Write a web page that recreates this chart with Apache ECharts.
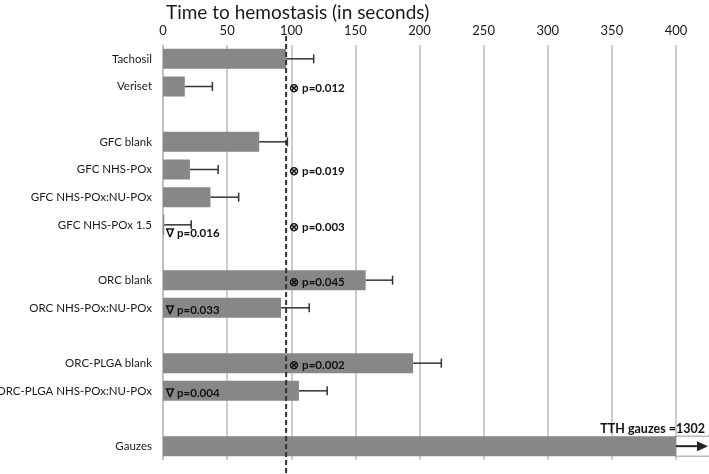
<!DOCTYPE html>
<html>
<head>
<meta charset="utf-8">
<script src="https://cdn.jsdelivr.net/npm/echarts@6/dist/echarts.min.js"></script>
<style>html,body{margin:0;padding:0;background:#fff;}#c{width:709px;height:474px;}</style>
</head>
<body>
<div id="c"></div>
<script>
// ---- data ----
var categories = ['Tachosil', 'Veriset', ' ', 'GFC blank', 'GFC NHS-POx', 'GFC NHS-POx:NU-POx', 'GFC NHS-POx 1.5', '  ', 'ORC blank', 'ORC NHS-POx:NU-POx', '   ', 'ORC-PLGA blank', 'ORC-PLGA NHS-POx:NU-POx', '    ', 'Gauzes'];
var meanValues = [96, 17, null, 75, 21, 37, 1, null, 158, 92, null, 195, 106, null, 1302];
var errorEnds  = [117.5, 38.5, null, 97, 43, 59, 22, null, 179, 114, null, 217, 128, null, null];
var xTicks = [0, 50, 100, 150, 200, 250, 300, 350, 400];
var referenceValue = 96;
// annotations: [category, x value, text, kind]
var annotations = [
  ['Veriset', 98.5, '⊗ p=0.012', 'row'],
  ['GFC NHS-POx', 98.5, '⊗ p=0.019', 'row'],
  ['GFC NHS-POx 1.5', 98.5, '⊗ p=0.003', 'row'],
  ['GFC NHS-POx 1.5', 2.5, '∇ p=0.016', 'below'],
  ['ORC blank', 98.5, '⊗ p=0.045', 'row'],
  ['ORC NHS-POx:NU-POx', 2.5, '∇ p=0.033', 'row'],
  ['ORC-PLGA blank', 98.5, '⊗ p=0.002', 'row'],
  ['ORC-PLGA NHS-POx:NU-POx', 2.5, '∇ p=0.004', 'row']
];
var gauzeNote = 'TTH gauzes =1302';

var FONT = 'Lato';
var chart = echarts.init(document.getElementById('c'));

var errData = [];
for (var i = 0; i < categories.length; i++) {
  if (errorEnds[i] != null) errData.push([meanValues[i], categories[i], errorEnds[i]]);
}

var option = {
  animation: false,
  title: {
    text: 'Time to hemostasis (in seconds)',
    left: 161, top: -2,
    textStyle: { fontFamily: FONT, fontSize: 19, fontWeight: 'normal', color: '#1a1a1a' }
  },
  grid: { left: 163, right: 33, top: 45, bottom: 14, containLabel: false, outerBoundsMode: 'none' },
  xAxis: {
    type: 'value', position: 'top', min: 0, max: 400, interval: 50,
    axisLine: { show: false }, axisTick: { show: false },
    axisLabel: { fontFamily: FONT, fontSize: 13, color: '#1a1a1a', margin: 8,
      formatter: function (v) { return xTicks.indexOf(v) >= 0 ? String(v) : ''; } },
    splitLine: { lineStyle: { color: '#bdbdbd', width: 1.5 } }
  },
  yAxis: {
    type: 'category', data: categories, inverse: true,
    axisLine: { show: true, lineStyle: { color: '#bdbdbd', width: 1.5 } },
    axisTick: { show: false },
    axisLabel: { fontFamily: FONT, fontSize: 11.5, color: '#1a1a1a', margin: 11 }
  },
  series: [
    {
      type: 'bar', data: meanValues, barWidth: 20, clip: true,
      itemStyle: { color: '#878787' }, z: 2
    },
    {
      type: 'custom', data: errData, z: 4, clip: false,
      encode: { x: [0, 2], y: 1 },
      renderItem: function (params, api) {
        var a = api.coord([api.value(0), api.value(1)]);
        var b = api.coord([api.value(2), api.value(1)]);
        var st = { stroke: '#333', lineWidth: 1.5 };
        return { type: 'group', children: [
          { type: 'line', shape: { x1: a[0], y1: a[1], x2: b[0], y2: b[1] }, style: st },
          { type: 'line', shape: { x1: b[0], y1: b[1] - 4.5, x2: b[0], y2: b[1] + 4.5 }, style: st }
        ]};
      }
    },
    {
      type: 'custom', data: annotations, z: 6, clip: false,
      encode: { x: 1, y: 0 },
      renderItem: function (params, api) {
        var it = annotations[params.dataIndex];
        var p = api.coord([it[1], it[0]]);
        return { type: 'text', x: p[0], y: p[1] + (it[3] === 'below' ? 8 : 2),
          style: { text: it[2], fontFamily: FONT, fontSize: 11.5, fontWeight: 'bold', fill: '#111',
            textAlign: 'left', textVerticalAlign: 'middle' } };
      }
    },
    {
      type: 'custom', data: [[400, 'Gauzes']], z: 6, clip: false,
      encode: { x: 0, y: 1 },
      renderItem: function (params, api) {
        var p = api.coord([api.value(0), api.value(1)]);
        var endX = api.getWidth();
        var h = 10;
        return { type: 'group', children: [
          { type: 'line', shape: { x1: p[0], y1: p[1] - h, x2: endX, y2: p[1] - h }, style: { stroke: '#999', lineWidth: 1 } },
          { type: 'line', shape: { x1: p[0], y1: p[1] + h, x2: endX, y2: p[1] + h }, style: { stroke: '#999', lineWidth: 1 } },
          { type: 'line', shape: { x1: p[0], y1: p[1], x2: endX - 8, y2: p[1] }, style: { stroke: '#222', lineWidth: 2 } },
          { type: 'polygon', shape: { points: [[endX - 12, p[1] - 5], [endX - 1, p[1]], [endX - 12, p[1] + 5]] }, style: { fill: '#222' } },
          { type: 'text', x: endX - 4, y: p[1] - h - 7, style: { text: gauzeNote, fontFamily: FONT, fontSize: 12.5, fontWeight: 'bold', fill: '#111', textAlign: 'right', textVerticalAlign: 'middle' } }
        ]};
      }
    }
  ]
};
chart.setOption(option);

// dashed reference line, extended beyond the grid
var rx = chart.convertToPixel({ xAxisIndex: 0 }, referenceValue);
chart.setOption({
  graphic: [{
    type: 'line', z: 10,
    shape: { x1: rx, y1: 36, x2: rx, y2: 474 },
    style: { stroke: '#333', lineWidth: 2, lineDash: [5, 3] }
  }]
});
</script>
</body>
</html>
